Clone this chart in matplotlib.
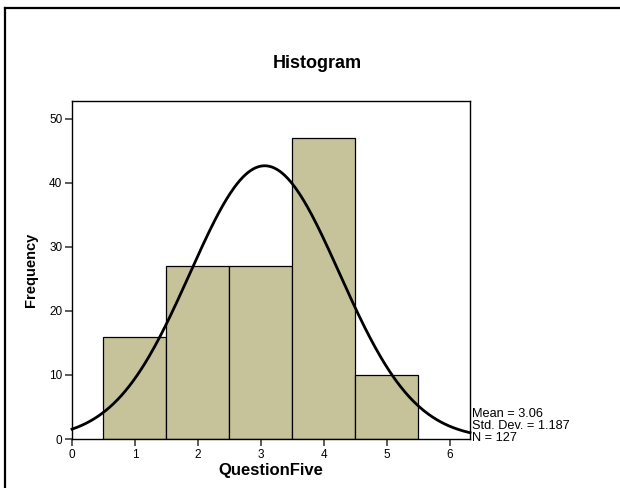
import numpy as np
import matplotlib
matplotlib.use("Agg")
import matplotlib.pyplot as plt
from matplotlib.lines import Line2D

plt.rcParams['font.family'] = ['Liberation Sans', 'DejaVu Sans']

# data
bin_centers = [1, 2, 3, 4, 5]
counts = [16, 27, 27, 47, 10]
mean, sd, n = 3.06, 1.187, 127
xticks = [0, 1, 2, 3, 4, 5, 6]
yticks = [0, 10, 20, 30, 40, 50]

fig = plt.figure(figsize=(6.2, 4.88), dpi=100)
ax = fig.add_axes([72/620, 1-439/488, 398/620, 338/488])

ax.bar(bin_centers, counts, width=1.0, color="#c6c39b", edgecolor="black", linewidth=0.9)

# normal curve scaled to counts
xs = np.linspace(0, 6.32, 300)
ys = n * 1.0 / (sd * np.sqrt(2*np.pi)) * np.exp(-0.5*((xs-mean)/sd)**2)
ax.plot(xs, ys, color="black", lw=2, clip_on=False)

ax.set_xlim(0, 6.32)
ax.set_ylim(0, 52.8)
ax.set_xticks(xticks)
ax.set_yticks(yticks)
ax.tick_params(direction="out", length=5, width=1.2, color="#404040", labelsize=8.5, pad=2)
for s in ax.spines.values():
    s.set_linewidth(1.0)

ax.set_ylabel("Frequency", fontsize=10.5, fontweight="bold", labelpad=8)
ax.set_xlabel("QuestionFive", fontsize=12, fontweight="bold", labelpad=2)
fig.text(317/620, 1-63/488, "Histogram", ha="center", va="center", fontsize=13, fontweight="bold")

fig.text(472/620, 1-426/488, f"Mean = {mean}\nStd. Dev. = {sd}\nN = {n}",
         ha="left", va="center", fontsize=9.2, linespacing=1.0)

# outer frame (left and top only visible)
fig.add_artist(Line2D([5/620, 5/620], [0, 1-8/488], color="black", lw=1.6, transform=fig.transFigure))
fig.add_artist(Line2D([5/620, 1], [1-8/488, 1-8/488], color="black", lw=1.6, transform=fig.transFigure))

fig.savefig("out.png", dpi=100)
